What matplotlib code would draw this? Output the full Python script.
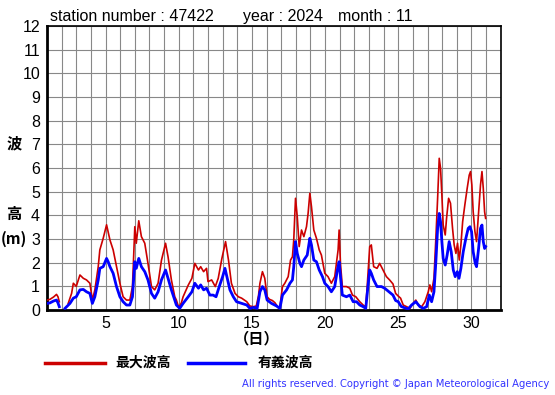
import numpy as np
import matplotlib
matplotlib.use("Agg")
import matplotlib.pyplot as plt

# 最大波高 (red), day of month vs height in m; NaN marks the data gap
max_day = [1.0, 1.2, 1.45, 1.65, 1.75, 1.84, 2.0, 2.45, 2.68, 2.8, 3.0, 3.25, 3.48, 3.7, 3.93,
           4.1, 4.27, 4.5, 4.61, 4.84, 5.07, 5.18, 5.3, 5.52, 5.75, 5.98, 6.2, 6.43, 6.66, 6.84,
           7.0, 7.1, 7.27, 7.45, 7.68, 7.9, 8.14, 8.36, 8.59, 8.82, 9.1, 9.27, 9.5, 9.73, 9.84,
           10.0, 10.18, 10.3, 10.65, 10.9, 11.1, 11.35, 11.5, 11.7, 11.9, 12.0, 12.25, 12.5, 12.7,
           12.95, 13.2, 13.4, 13.6, 13.85, 14.07, 14.3, 14.65, 14.86, 15.1, 15.3, 15.45, 15.55,
           15.72, 15.88, 16.04, 16.2, 16.4, 16.57, 16.8, 16.9, 17.09, 17.25, 17.48, 17.64, 17.77,
           17.86, 17.98, 18.1, 18.23, 18.39, 18.55, 18.73, 18.84, 18.96, 19.07, 19.23, 19.41, 19.6,
           19.75, 19.98, 20.2, 20.43, 20.66, 20.89, 20.96, 21.05, 21.18, 21.46, 21.69, 21.87, 22.1,
           22.37, 22.6, 22.78, 22.87, 23.05, 23.16, 23.32, 23.55, 23.73, 23.96, 24.19, 24.41, 24.64,
           24.82, 24.98, 25.16, 25.34, 25.57, 25.8, 26.02, 26.2, 26.37, 26.6, 26.82, 27.05, 27.16,
           27.28, 27.44, 27.57, 27.69, 27.8, 27.89, 27.98, 28.07, 28.21, 28.3, 28.44, 28.57, 28.71,
           28.82, 28.94, 29.05, 29.17, 29.28, 29.4, 29.55, 29.71, 29.85, 29.94, 30.03, 30.12, 30.24,
           30.35, 30.49, 30.62, 30.72, 30.81, 30.9, 30.97]
max_m = [0.42, 0.45, 0.55, 0.66, 0.56, 0.35, np.nan, 0.28, 0.7, 1.13, 1.0, 1.48, 1.34, 1.27, 1.13,
         0.42, 0.85, 1.83, 2.54, 3.03, 3.6, 3.3, 2.96, 2.54, 1.83, 1.13, 0.56, 0.42, 0.42, 0.99,
         3.52, 2.82, 3.77, 3.1, 2.82, 1.97, 0.99, 0.85, 1.13, 2.1, 2.82, 2.25, 1.27, 0.56, 0.42,
         0.1, 0.3, 0.56, 1.05, 1.34, 1.97, 1.69, 1.83, 1.62, 1.76, 1.2, 1.27, 0.99, 1.34,
         2.18, 2.89, 2.11, 1.13, 0.7, 0.56, 0.5, 0.35, 0.17, 0.14, 0.17, 0.6, 1.13,
         1.62, 1.34, 0.56, 0.45, 0.4, 0.31, 0.1, 0.07, 0.99, 1.13, 1.41, 2.11, 2.25,
         2.96, 4.72, 3.94, 2.68, 3.38, 3.1, 3.52, 4.08, 4.93, 4.37, 3.38, 3.03, 2.54,
         2.32, 1.55, 1.41, 1.13, 1.41, 2.54, 3.38, 1.97, 0.99, 0.99, 0.92, 0.63, 0.56,
         0.35, 0.21, 0.14, 0.92, 2.68, 2.75, 1.83, 1.76, 1.97, 1.69, 1.41, 1.27, 1.1,
         0.7, 0.6, 0.5, 0.21, 0.14, 0.07, 0.28, 0.42, 0.21, 0.14, 0.35, 0.77, 1.06,
         0.77, 1.34, 3.03, 4.72, 6.41, 5.99, 4.86, 3.59, 3.17, 3.87, 4.72, 4.51, 3.45,
         2.75, 2.39, 2.82, 2.11, 2.75, 3.73, 4.44, 5.14, 5.7, 5.85, 5.28, 4.15, 3.31,
         2.89, 4.15, 5.28, 5.85, 5.14, 4.15, 3.87]

# 有義波高 (blue)
sig_day = [1.0, 1.2, 1.45, 1.65, 1.75, 1.84, 2.0, 2.23, 2.57, 2.8, 3.0, 3.25, 3.48, 3.7, 3.93,
           4.1, 4.27, 4.5, 4.61, 4.84, 5.07, 5.18, 5.3, 5.52, 5.75, 5.98, 6.2, 6.43, 6.66, 6.84,
           7.0, 7.1, 7.27, 7.45, 7.68, 7.9, 8.14, 8.36, 8.59, 8.82, 9.1, 9.27, 9.5, 9.73, 9.84,
           10.07, 10.3, 10.65, 10.9, 11.1, 11.35, 11.5, 11.7, 11.9, 12.13, 12.35, 12.55, 12.77,
           13.0, 13.16, 13.32, 13.5, 13.73, 13.95, 14.3, 14.65, 14.86, 15.13, 15.36, 15.55, 15.72,
           15.88, 16.04, 16.34, 16.68, 16.91, 17.09, 17.37, 17.6, 17.77, 17.86, 17.98, 18.1, 18.28,
           18.39, 18.55, 18.78, 18.96, 19.07, 19.23, 19.41, 19.6, 19.82, 19.98, 20.2, 20.43, 20.66,
           20.84, 20.96, 21.05, 21.18, 21.46, 21.69, 21.92, 22.15, 22.37, 22.6, 22.78, 22.87, 23.05,
           23.16, 23.32, 23.55, 23.85, 24.07, 24.41, 24.64, 24.82, 25.0, 25.2, 25.4, 25.68, 25.91,
           26.2, 26.48, 26.71, 26.94, 27.12, 27.28, 27.44, 27.57, 27.69, 27.8, 27.89, 27.98, 28.07,
           28.21, 28.34, 28.48, 28.62, 28.76, 28.89, 29.03, 29.15, 29.28, 29.44, 29.62, 29.78, 29.9,
           30.01, 30.12, 30.26, 30.35, 30.49, 30.62, 30.72, 30.81, 30.9, 30.97]
sig_m = [0.28, 0.3, 0.38, 0.42, 0.3, 0.14, np.nan, 0.07, 0.28, 0.5, 0.56, 0.85, 0.87, 0.77, 0.7,
         0.28, 0.56, 1.27, 1.76, 1.83, 2.18, 2.04, 1.83, 1.55, 0.99, 0.56, 0.35, 0.21, 0.21, 0.56,
         2.04, 1.76, 2.18, 1.83, 1.62, 1.27, 0.7, 0.5, 0.77, 1.27, 1.69, 1.34, 0.85, 0.42, 0.21,
         0.07, 0.28, 0.56, 0.77, 1.13, 0.92, 1.06, 0.85, 0.92, 0.63, 0.63, 0.56, 0.99,
         1.41, 1.76, 1.34, 0.85, 0.56, 0.35, 0.28, 0.21, 0.07, 0.11, 0.07, 0.77, 0.99,
         0.85, 0.42, 0.28, 0.17, 0.07, 0.63, 0.85, 1.13, 1.27, 1.83, 2.89, 2.39, 1.97,
         1.83, 2.11, 2.32, 3.03, 2.75, 2.11, 2.04, 1.69, 1.41, 1.13, 0.99, 0.77, 0.99,
         1.69, 2.04, 1.41, 0.63, 0.56, 0.63, 0.35, 0.35, 0.21, 0.14, 0.07, 0.63, 1.69,
         1.55, 1.27, 0.99, 0.99, 0.92, 0.75, 0.63, 0.4, 0.35, 0.15, 0.1, 0.04, 0.21,
         0.35, 0.14, 0.07, 0.14, 0.63, 0.35, 0.77, 2.04, 3.45, 4.08, 3.73, 2.89, 2.18,
         1.9, 2.32, 2.89, 2.46, 1.69, 1.41, 1.62, 1.34, 1.76, 2.46, 3.03, 3.45, 3.52,
         3.31, 2.46, 1.97, 1.83, 2.6, 3.45, 3.59, 2.89, 2.6, 2.68]

day_ticks = [5, 10, 15, 20, 25, 30]
height_ticks = list(range(0, 13))

plt.rcParams["font.family"] = ["Liberation Sans", "Noto Sans CJK JP", "DejaVu Sans"]
jp = ["Noto Sans CJK JP", "DejaVu Sans"]

fig = plt.figure(figsize=(5.55, 3.95), dpi=100)
ax = fig.add_axes([47 / 555, 85 / 395, 453.7 / 555, 284 / 395])

ax.plot(max_day, max_m, color="#cc0000", lw=1.2, zorder=3)
ax.plot(sig_day, sig_m, color="#0000ff", lw=2.0, zorder=4)

ax.set_xlim(1, 32)
ax.set_ylim(0, 12)
ax.set_xticks(range(1, 33), minor=True)
ax.set_xticks(day_ticks)
ax.set_yticks(height_ticks)
ax.grid(True, which="both", color="#888888", lw=0.8)
ax.tick_params(which="both", length=0, labelsize=11.5)
ax.tick_params(axis="y", pad=5)
ax.tick_params(axis="x", pad=4)
for side in ["left", "bottom"]:
    ax.spines[side].set_linewidth(2.0)
for side in ["top", "right"]:
    ax.spines[side].set_linewidth(1.2)

# title line
fig.text(50 / 555, 1 - 21 / 395, "station number : 47422", fontsize=11.5, va="baseline")
fig.text(243 / 555, 1 - 21 / 395, "year : 2024", fontsize=11.5, va="baseline")
fig.text(338 / 555, 1 - 21 / 395, "month : 11", fontsize=11.5, va="baseline")

# y label written vertically in pieces
fig.text(14 / 555, 1 - 143 / 395, "波", family=jp, fontsize=11, fontweight="bold",
         ha="center", va="center")
fig.text(14 / 555, 1 - 214 / 395, "高", family=jp, fontsize=11, fontweight="bold",
         ha="center", va="center")
fig.text(1 / 555, 1 - 239 / 395, "(m)", family=jp, fontsize=11, fontweight="bold",
         ha="left", va="center")
fig.text(257 / 555, 1 - 338 / 395, "（日）", family=jp, fontsize=11, fontweight="bold",
         ha="center", va="center")

# legend
fig.add_artist(plt.Line2D([45 / 555, 105 / 555], [1 - 363 / 395] * 2, color="#cc0000", lw=2.5))
fig.text(115 / 555, 1 - 363 / 395, "最大波高", family=jp, fontsize=10, fontweight="bold",
         va="center")
fig.add_artist(plt.Line2D([188 / 555, 245 / 555], [1 - 363 / 395] * 2, color="#0000ff", lw=2.5))
fig.text(258 / 555, 1 - 363 / 395, "有義波高", family=jp, fontsize=10, fontweight="bold",
         va="center")

fig.text(549 / 555, 1 - 384 / 395,
         "All rights reserved. Copyright © Japan Meteorological Agency",
         family="DejaVu Sans", fontsize=7.2, color="#3333ff", ha="right", va="center")

fig.savefig("out.png", dpi=100)
